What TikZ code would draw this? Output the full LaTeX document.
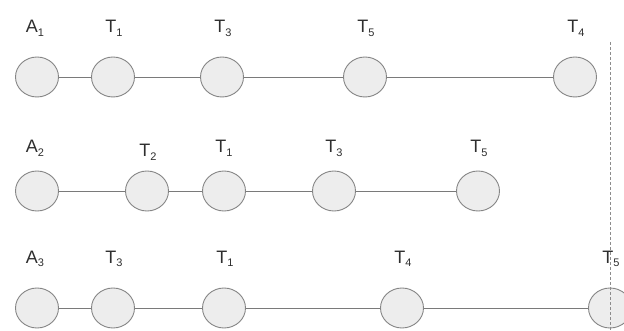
\documentclass[tikz,border=0pt]{standalone}
\usepackage{fontspec}
\setmainfont{Liberation Sans}
\usepackage{xcolor}
\usepackage{tikz}
\usetikzlibrary{shapes.geometric}

\definecolor{ringgray}{HTML}{858585}
\definecolor{slotfill}{HTML}{EDEDED}
\definecolor{linkgray}{HTML}{7A7A7A}
\definecolor{tagtext}{HTML}{2E2E2E}
\definecolor{cutgray}{HTML}{8C8C8C}

\newcommand{\lowidx}[1]{\raisebox{-4pt}{\fontsize{11}{11}\selectfont #1}}

\begin{document}
\begin{tikzpicture}[x=1pt, y=-1pt, line width=0.9pt,
  slot/.style={ellipse, draw=ringgray, fill=slotfill, minimum width=43pt,
    minimum height=40pt, inner sep=0pt},
  tag/.style={anchor=base, text=tagtext, font=\fontsize{18}{20}\selectfont,
    inner sep=0pt},
  link/.style={draw=linkgray}]
  \useasboundingbox (0,0) rectangle (624,331);
  \clip (0,0) rectangle (624,331);

  % row 1
  \node[slot] (a1) at (37, 77) {};
  \node[slot] (r1t1) at (113, 77) {};
  \node[slot] (r1t3) at (222, 77) {};
  \node[slot] (r1t5) at (365, 77) {};
  \node[slot] (r1t4) at (575, 77) {};

  \node[tag] (la1) at (35, 33) {A\lowidx{1}};
  \node[tag] (lr1t1) at (114, 33) {T\lowidx{1}};
  \node[tag] (lr1t3) at (223, 33) {T\lowidx{3}};
  \node[tag] (lr1t5) at (366, 33) {T\lowidx{5}};
  \node[tag] (lr1t4) at (576, 33) {T\lowidx{4}};

  \draw[link] (a1) -- (r1t1) -- (r1t3) -- (r1t5) -- (r1t4);

  % row 2
  \node[slot] (a2) at (37, 191) {};
  \node[slot] (r2t2) at (147, 191) {};
  \node[slot] (r2t1) at (224, 191) {};
  \node[slot] (r2t3) at (334, 191) {};
  \node[slot] (r2t5) at (478, 191) {};

  \node[tag] (la2) at (35, 153) {A\lowidx{2}};
  \node[tag] (lr2t2) at (148, 157) {T\lowidx{2}};
  \node[tag] (lr2t1) at (224, 153) {T\lowidx{1}};
  \node[tag] (lr2t3) at (334, 153) {T\lowidx{3}};
  \node[tag] (lr2t5) at (479, 153) {T\lowidx{5}};

  \draw[link] (a2) -- (r2t2) -- (r2t1) -- (r2t3) -- (r2t5);

  % row 3
  \node[slot] (a3) at (37, 308) {};
  \node[slot] (r3t3) at (113, 308) {};
  \node[slot] (r3t1) at (224, 308) {};
  \node[slot] (r3t4) at (402, 308) {};
  \node[slot] (r3t5) at (610, 308) {};

  \node[tag] (la3) at (35, 263) {A\lowidx{3}};
  \node[tag] (lr3t3) at (114, 263) {T\lowidx{3}};
  \node[tag] (lr3t1) at (225, 263) {T\lowidx{1}};
  \node[tag] (lr3t4) at (403, 263) {T\lowidx{4}};
  \node[tag] (lr3t5) at (611, 263) {T\lowidx{5}};

  \draw[link] (a3) -- (r3t3) -- (r3t1) -- (r3t4) -- (r3t5);

  % cut line
  \coordinate (cuttop) at (610, 42);
  \coordinate (cutbot) at (610, 331);
  \draw[cutgray, line width=0.8pt, dash pattern=on 3pt off 2pt] (cuttop) -- (cutbot);
\end{tikzpicture}
\end{document}
